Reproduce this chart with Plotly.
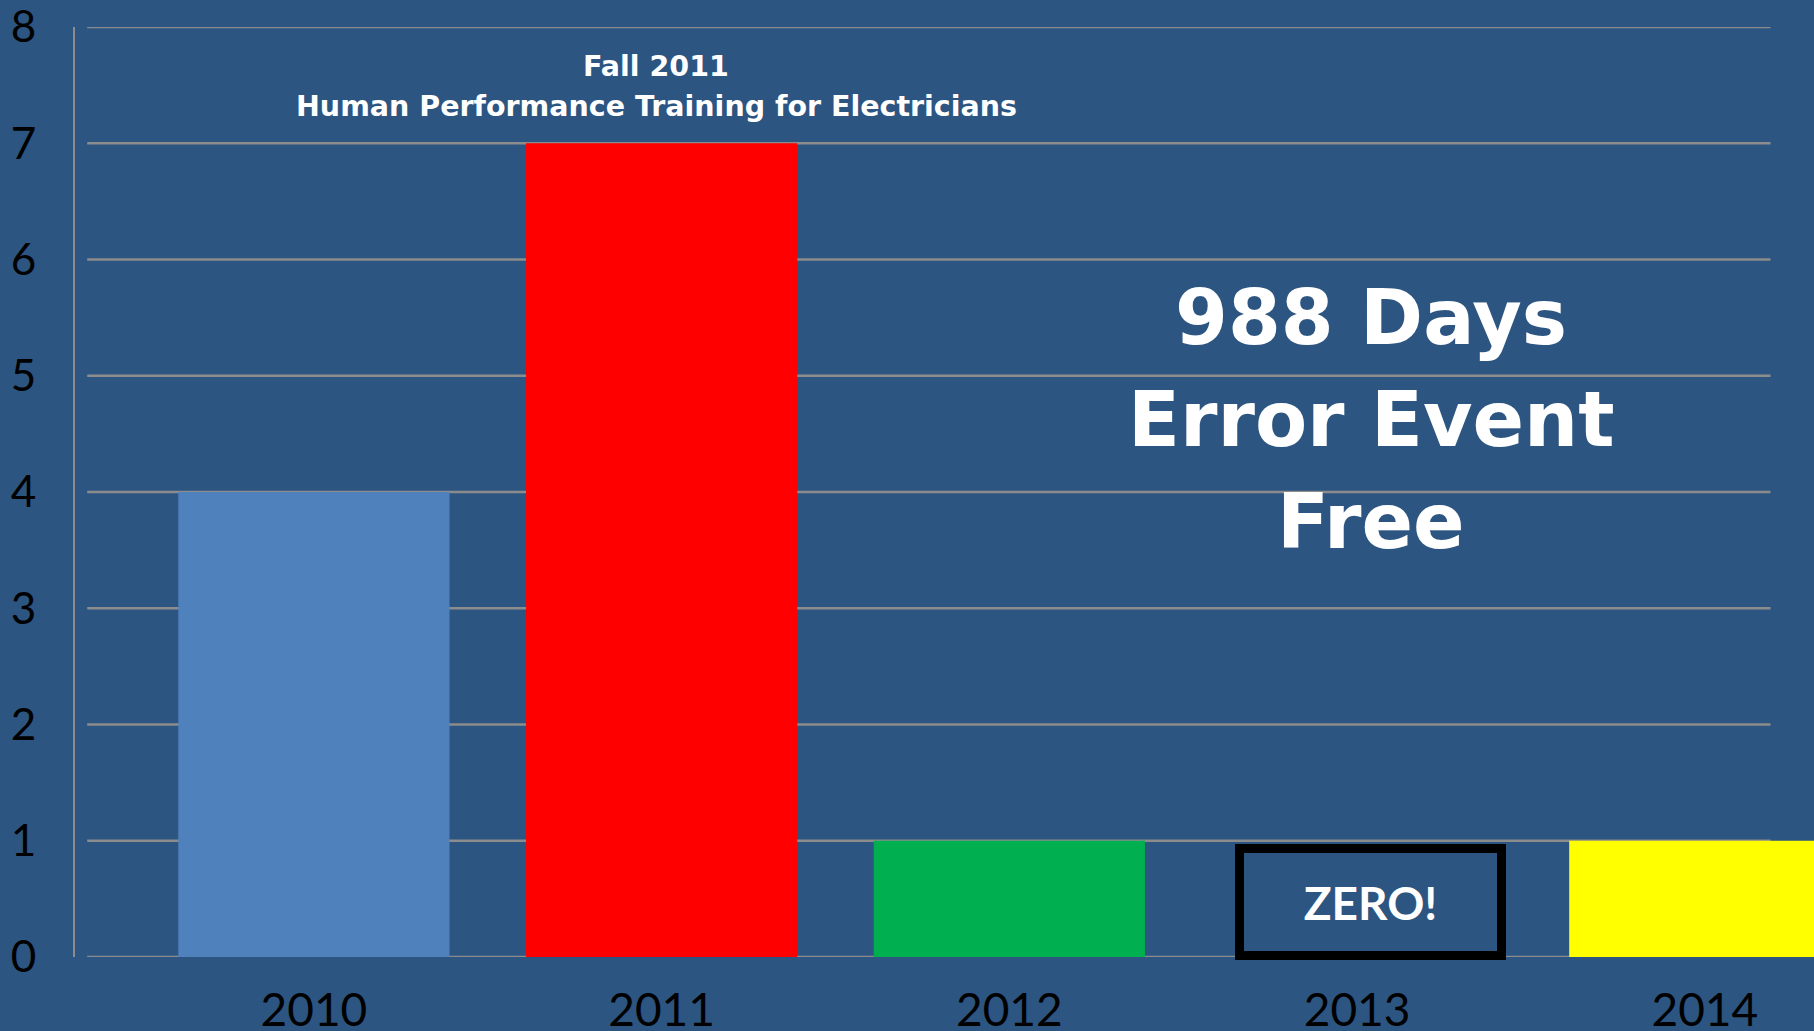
import plotly.graph_objects as go

# error events per year
years = ['2010', '2011', '2012', '2013', '2014']
error_events = [4, 7, 1, 0, 1]
bar_colors = ['#4F81BD', '#FF0000', '#00B050', 'rgba(0,0,0,0)', '#FFFF00']
y_ticks = [0, 1, 2, 3, 4, 5, 6, 7, 8]

BG = '#2C5581'
GRID = '#8C8C8C'
X_RANGE = [-0.687, 4.314]
Y_RANGE = [0, 8]


def px(year):
    # paper x of a category centre
    return (years.index(year) - X_RANGE[0]) / (X_RANGE[1] - X_RANGE[0])


def py(val):
    return (val - Y_RANGE[0]) / (Y_RANGE[1] - Y_RANGE[0])


fig = go.Figure()

fig.add_trace(
    go.Bar(
        x=years,
        y=error_events,
        marker_color=bar_colors,
        marker_line_width=0,
        width=0.78,
        hoverinfo='skip',
    )
)

# gridlines drawn by hand so they stop short of the right edge (the 2014 bar doesn't)
for v in y_ticks:
    fig.add_shape(
        type='line', xref='paper', yref='y',
        x0=0.007, x1=0.975, y0=v, y1=v,
        line=dict(color=GRID, width=2.5),
        layer='below',
    )

# the "ZERO!" box over 2013
fig.add_annotation(
    x=px('2013') + 0.008, y=py(0.47), xref='paper', yref='paper',
    xanchor='center', yanchor='middle',
    text='<b>ZERO!</b>',
    showarrow=False,
    width=253, height=98,
    bordercolor='black', borderwidth=9, borderpad=0,
    font=dict(family='Lato', size=46, color='white'),
)

# training note above the 2011 bar
fig.add_annotation(
    x=px('2011') - 0.003, y=py(7.66), xref='paper', yref='paper',
    xanchor='center', yanchor='middle',
    text='<b>Fall 2011</b>', showarrow=False,
    font=dict(family='DejaVu Sans', size=28.5, color='white'),
)
fig.add_annotation(
    x=px('2011') - 0.003, y=py(7.32), xref='paper', yref='paper',
    xanchor='center', yanchor='middle',
    text='<b>Human Performance Training for Electricians</b>', showarrow=False,
    font=dict(family='DejaVu Sans', size=28.5, color='white'),
)

# big callout
for line, yv in zip(['988 Days', 'Error Event', 'Free'], [5.50, 4.62, 3.75]):
    fig.add_annotation(
        x=px('2013') + 0.008, y=py(yv), xref='paper', yref='paper',
        xanchor='center', yanchor='middle',
        text=f'<b>{line}</b>', showarrow=False,
        font=dict(family='DejaVu Sans', size=76, color='white'),
    )

fig.update_layout(
    width=1814,
    height=1031,
    paper_bgcolor=BG,
    plot_bgcolor=BG,
    showlegend=False,
    margin=dict(l=75, r=0, t=27, b=74),
    font=dict(family='Lato', color='black'),
)

fig.update_xaxes(
    type='category',
    range=X_RANGE,
    automargin=False,
    showgrid=False,
    zeroline=False,
    showline=False,
    ticks='',
    tickfont=dict(size=46, color='black'),
    ticklabelstandoff=22,
    ticklabeloverflow='allow',
)
fig.update_yaxes(
    range=Y_RANGE,
    tickvals=y_ticks,
    automargin=False,
    showgrid=False,
    zeroline=False,
    showline=True,
    linecolor=GRID,
    linewidth=2,
    ticks='',
    tickfont=dict(size=44, color='black'),
    ticklabelstandoff=28,
    ticklabeloverflow='allow',
)

fig.write_html('out.html', config={'displayModeBar': False})

# drop the default page margin so the chart sits flush in the window
with open('out.html', encoding='utf-8') as f:
    html = f.read()
html = html.replace('<head>', '<head><style>html,body{margin:0;padding:0;overflow:hidden;}</style>', 1)
with open('out.html', 'w', encoding='utf-8') as f:
    f.write(html)
